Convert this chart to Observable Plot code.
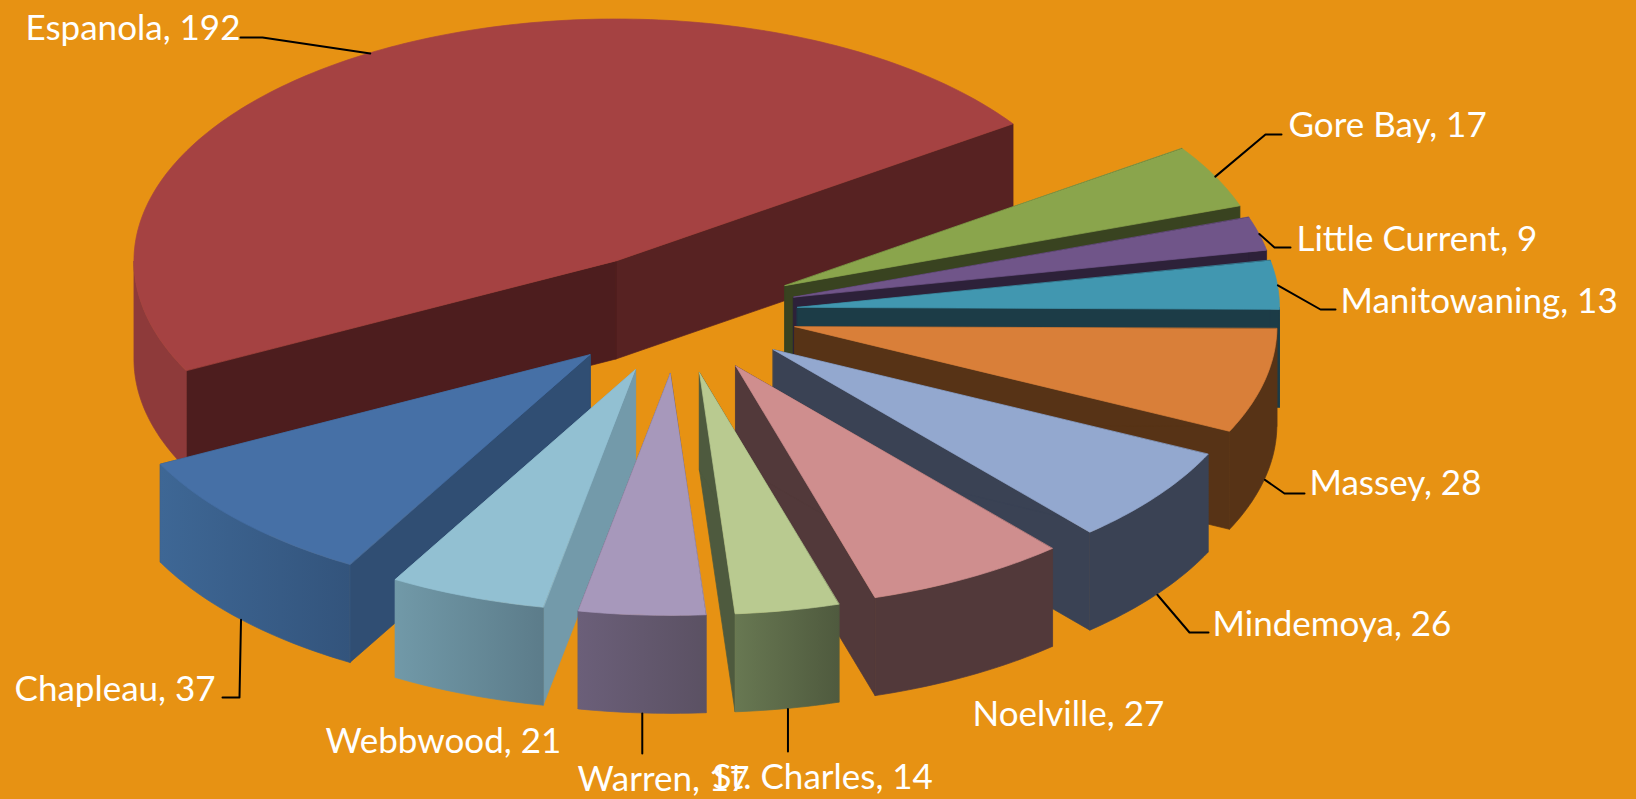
<!DOCTYPE html>
<html>
<head>
<meta charset="utf-8">
<script src="https://cdn.jsdelivr.net/npm/d3@7"></script>
<script src="https://cdn.jsdelivr.net/npm/@observablehq/plot@0.6"></script>
<style>html,body{margin:0;padding:0;background:#e79213;overflow:hidden}svg{display:block}</style>
</head>
<body>
<div id="chart"></div>
<script>
// Data
const towns = ["Espanola","Gore Bay","Little Current","Manitowaning","Massey","Mindemoya","Noelville","St. Charles","Warren","Webbwood","Chapleau"];
const counts = [192,17,9,13,28,26,27,14,17,21,37];

// Styles per slice, in the order of towns
const topColors  = ["#a54242","#8aa54c","#705589","#4197b0","#d97f39","#93a8cf","#cf8e8e","#b9ca90","#a798bb","#92c0d2","#4670a6"];
const wallColors = ["#4d1d1e","#394320","#2d2139","#1c3c47","#573316","#3a4254","#52393a","#4e5a3e","#5b5163","#739aaa","#304e73"];
const backWallColors = ["#572222","#394320","#2d2139","#1c3c47","#573316","#3a4254","#52393a","#4e5a3e","#5b5163","#739aaa","#304e73"];
const rimLeft    = ["#8e3a3a","#394320","#2d2139","#1c3c47","#573316","#3a4254","#52393a","#687852","#6b5f79","#7199a8","#3e6795"];
const rimRight   = ["#8e3a3a","#394320","#2d2139","#1c3c47","#573316","#3a4254","#52393a","#4f5a3e","#5b5163","#5c7c8a","#33547c"];

// Label layout: left edge and middle of text, then leader path from the text to the slice
const labelX = [25,1288,1296,1340,1309,1212,972,712,577,325,14];
const labelY = [28,125,239,301,483,624,714,777,779,741,689];
const leaders = [
  [[240,37],[262,37]],
  [[1281,134],[1265,134]],
  [[1290,247],[1274,247]],
  [[1335,309],[1320,309]],
  [[1304,493],[1284,493]],
  [[1208,632],[1189,632]],
  null,
  [[null,751]],
  [[null,753]],
  null,
  [[222,697],[239,697]]
];

// Pie geometry
const W = 1636, H = 799;
const cx = 677.5, cy = 313, rx = 482, ry = 242, explode = 0.25, depth = 98;
const firstAngle = -206.9;
const total = d3.sum(counts);
const rad = d => d * Math.PI / 180;

let cursor = firstAngle;
const slices = towns.map((town, i) => {
  const a0 = cursor, a1 = cursor + counts[i] / total * 360;
  cursor = a1;
  const mid = (a0 + a1) / 2;
  return {i, town, a0, a1, mid,
    ax: cx + explode * rx * Math.cos(rad(mid)),
    ay: cy + explode * ry * Math.sin(rad(mid))};
});
const px = (s, a, r = 1) => s.ax + r * rx * Math.cos(rad(a));
const py = (s, a, r = 1, z = 0) => s.ay + r * ry * Math.sin(rad(a)) + z;
const sweep = (a0, a1) => {
  const out = d3.range(a0, a1, 1);
  out.push(a1);
  return out;
};
function frontRange(s) {
  const k = Math.floor(s.a0 / 360);
  for (const base of [k * 360, (k + 1) * 360]) {
    const lo = Math.max(s.a0, base), hi = Math.min(s.a1, base + 180);
    if (hi > lo) return [lo, hi];
  }
  return null;
}

const seam = 0.7;
function wallFace(s, a, fill) {
  const pts = [0, 1].map(r => ({
    x: px(s, a, r), y1: py(s, a, r), y2: py(s, a, r, depth)
  }));
  return Plot.area(pts, {x1: "x", y1: "y1", x2: "x", y2: "y2", fill, stroke: fill, strokeWidth: seam});
}
function rimFace(s) {
  const range = frontRange(s);
  if (!range) return null;
  const pts = sweep(range[0], range[1]).map(a => ({
    x: px(s, a), y1: py(s, a), y2: py(s, a, 1, depth)
  }));
  const paint = `url(#rim${s.i})`;
  return Plot.area(pts, {x1: "x", y1: "y1", x2: "x", y2: "y2", fill: paint, stroke: paint, strokeWidth: seam});
}
function topFace(s) {
  const pts = sweep(s.a0, s.a1).map(a => ({
    x0: s.ax, y0: s.ay, x: px(s, a), y: py(s, a)
  }));
  return Plot.area(pts, {x1: "x0", y1: "y0", x2: "x", y2: "y", fill: topColors[s.i], stroke: topColors[s.i], strokeWidth: seam});
}

const order = d3.sort(slices, s => Math.sin(rad(s.mid)));
const pieMarks = order.flatMap(s => [
  wallFace(s, s.a1, backWallColors[s.i]),
  wallFace(s, s.a0, wallColors[s.i]),
  rimFace(s),
  topFace(s)
].filter(Boolean));

const leaderRows = slices.flatMap(s => {
  const path = leaders[s.i];
  if (!path) return [];
  const front = Math.sin(rad(s.mid)) > 0;
  const start = [px(s, s.mid), py(s, s.mid, 1, front ? depth : 0)];
  return [...path.map(p => [p[0] ?? start[0], p[1]]), start].map(p => ({town: s.town, x: p[0], y: p[1]}));
});

const labels = towns.map((t, i) => ({text: `${t}, ${counts[i]}`, x: labelX[i], y: labelY[i]}));

function gradients() {
  const defs = d3.create("svg:defs");
  slices.forEach(s => {
    const g = defs.append("linearGradient").attr("id", `rim${s.i}`)
      .attr("x1", 0).attr("x2", 1).attr("y1", 0).attr("y2", 0);
    g.append("stop").attr("offset", 0).attr("stop-color", rimLeft[s.i]);
    g.append("stop").attr("offset", 1).attr("stop-color", rimRight[s.i]);
  });
  return defs.node();
}

const chart = Plot.plot({
  width: W, height: H,
  margin: 0,
  x: {domain: [0, W], range: [0, W], axis: null},
  y: {domain: [0, H], range: [0, H], axis: null},
  style: {background: "#e79213"},
  marks: [
    gradients,
    ...pieMarks,
    Plot.line(leaderRows, {x: "x", y: "y", z: "town", stroke: "#000", strokeWidth: 2, curve: "linear"}),
    Plot.text(labels, {x: "x", y: "y", text: "text", textAnchor: "start", fill: "#fff",
      fontFamily: "Lato, 'Open Sans', sans-serif", fontSize: 35})
  ]
});
document.getElementById("chart").append(chart);
</script>
</body>
</html>
